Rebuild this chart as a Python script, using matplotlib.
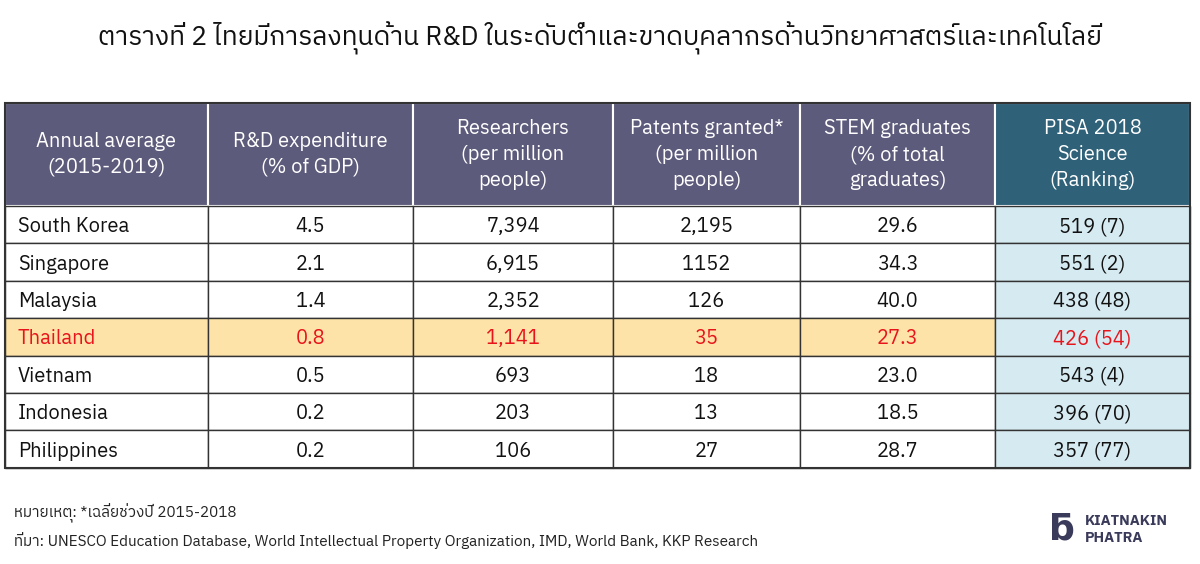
import matplotlib.pyplot as plt
from matplotlib.patches import Rectangle
from matplotlib import font_manager

fams = sorted({f.name for f in font_manager.fontManager.ttflist})
thai = [f for f in fams if "Thai" in f or "Loma" in f or "Garuda" in f]
print(thai)
plt.rcParams["font.family"] = thai[:1] + ["DejaVu Sans"]

title = "ตารางที่ 2 ไทยมีการลงทุนด้าน R&D ในระดับต่ำและขาดบุคลากรด้านวิทยาศาสตร์และเทคโนโลยี"
headers = ["Annual average\n(2015-2019)", "R&D expenditure\n(% of GDP)",
           "Researchers\n(per million\npeople)", "Patents granted*\n(per million\npeople)",
           "STEM graduates\n(% of total\ngraduates)", "PISA 2018\nScience\n(Ranking)"]
countries = ["South Korea", "Singapore", "Malaysia", "Thailand", "Vietnam", "Indonesia", "Philippines"]
rnd = ["4.5", "2.1", "1.4", "0.8", "0.5", "0.2", "0.2"]
researchers = ["7,394", "6,915", "2,352", "1,141", "693", "203", "106"]
patents = ["2,195", "1152", "126", "35", "18", "13", "27"]
stem = ["29.6", "34.3", "40.0", "27.3", "23.0", "18.5", "28.7"]
pisa = ["519 (7)", "551 (2)", "438 (48)", "426 (54)", "543 (4)", "396 (70)", "357 (77)"]
note1 = "หมายเหตุ: *เฉลี่ยช่วงปี 2015-2018"
note2 = "ที่มา: UNESCO Education Database, World Intellectual Property Organization, IMD, World Bank, KKP Research"

cols = [5, 208, 413, 613, 800, 995, 1190]
top, head_bot, row_h = 103, 206, 37.4

fig = plt.figure(figsize=(12, 5.64), dpi=100)
ax = fig.add_axes([0, 0, 1, 1])
ax.set_xlim(0, 1200)
ax.set_ylim(564, 0)
ax.axis("off")

ax.text(600, 38, title, ha="center", va="center", fontsize=19, color="#111")

for j, h in enumerate(headers):
    fc = "#2f6179" if j == 5 else "#5d5b7b"
    ax.add_patch(Rectangle((cols[j], top), cols[j + 1] - cols[j], head_bot - top,
                           fc=fc, ec="white", lw=1.5))
    ax.text((cols[j] + cols[j + 1]) / 2, (top + head_bot) / 2, h, ha="center",
            va="center", color="white", fontsize=14.5, linespacing=1.45)

for i, c in enumerate(countries):
    y0 = head_bot + i * row_h
    hl = c == "Thailand"
    vals = [c, rnd[i], researchers[i], patents[i], stem[i], pisa[i]]
    for j, v in enumerate(vals):
        fc = "#fde3a7" if hl and j < 5 else ("#d6eaf1" if j == 5 else "white")
        ax.add_patch(Rectangle((cols[j], y0), cols[j + 1] - cols[j], row_h,
                               fc=fc, ec="#333", lw=1))
        color = "#e8141c" if hl else "#111"
        if j == 0:
            ax.text(cols[0] + 13, y0 + row_h / 2 + 2, v, ha="left", va="center",
                    fontsize=14.5, color=color)
        else:
            ax.text((cols[j] + cols[j + 1]) / 2, y0 + row_h / 2 + 2, v, ha="center",
                    va="center", fontsize=14.5, color=color)
ax.add_patch(Rectangle((cols[0], top), cols[-1] - cols[0], head_bot + 7 * row_h - top,
                       fc="none", ec="#333", lw=1.5))

ax.text(14, 513, note1, fontsize=11, va="center", color="#222")
ax.text(14, 541, note2, fontsize=11, va="center", color="#222")
ax.text(1085, 521, "KIATNAKIN", fontsize=10.5, color="#3a3a5a", weight="bold", va="center")
ax.text(1085, 538, "PHATRA", fontsize=10.5, color="#3a3a5a", weight="bold", va="center")
ax.text(1062, 530, "ƃ", fontsize=26, color="#3a3a5a", weight="bold", va="center", ha="center")

fig.savefig("out.png", dpi=100)
